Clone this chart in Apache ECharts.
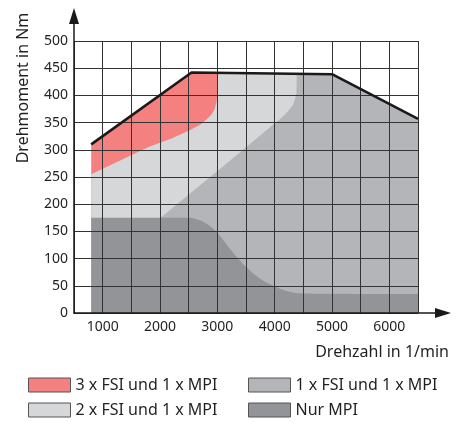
<!DOCTYPE html>
<html>
<head>
<meta charset="utf-8">
<script src="https://cdn.jsdelivr.net/npm/echarts@6/dist/echarts.min.js"></script>
<style>html,body{margin:0;padding:0;background:#fff;}#c{width:462px;height:422px;}</style>
</head>
<body>
<div id="c"></div>
<script>
// Full-load curve (black line)
const rpmFull = [800, 2550, 5000, 6500];
const torqueFull = [310, 442, 439, 357];
// 3 x FSI und 1 x MPI (red) – top boundary
const rpmRed = [800, 2550, 3000];
const torqueRed = [310, 442, 442];
// 2 x FSI und 1 x MPI (light grey) – top boundary
const rpmLight = [800, 1800, 2200, 2500, 2700, 2800, 2900, 2950, 2985, 3000, 3000, 4380];
const torqueLight = [255, 305, 321, 335, 346, 355, 365, 374, 388, 404, 442, 441];
// 1 x FSI und 1 x MPI (medium grey) – top boundary
const rpmMid = [2010, 3230, 3980, 4076, 4180, 4250, 4310, 4337, 4360, 4377, 4380, 5000, 6500];
const torqueMid = [175, 281, 347, 355, 365, 373, 381, 388, 395, 404, 441, 439, 357];
// Nur MPI (dark grey) – top boundary
const rpmDark = [800, 2500, 2650, 2800, 2977, 3238, 3500, 3790, 4000, 4250, 4480, 6500];
const torqueDark = [175, 175, 172, 165, 150, 116, 85, 60, 49, 39, 36, 35];
// tick labels
const xTickLabels = [1000, 2000, 3000, 4000, 5000, 6000];
const yTickLabels = [0, 50, 100, 150, 200, 250, 300, 350, 400, 450, 500];

const names = ['3 x FSI und 1 x MPI', '2 x FSI und 1 x MPI', '1 x FSI und 1 x MPI', 'Nur MPI'];
const colors = ['#f4807f', '#d6d7d9', '#b4b5b8', '#939498'];
const zip = (a, b) => a.map((v, i) => [v, b[i]]);
const FONT = 'Noto Sans';
const TXT = '#231f20';

function areaSeries(name, color, data, smooth) {
  return {
    name: name, type: 'line', xAxisIndex: 0, yAxisIndex: 0,
    data: data, showSymbol: false, symbol: 'none', smooth: smooth || false,
    color: color,
    itemStyle: { color: color },
    lineStyle: { width: 0, color: color },
    areaStyle: { color: color, opacity: 1 },
    silent: true, animation: false, z: 2
  };
}

function legendItem(name, left, top) {
  return {
    data: [name], orient: 'horizontal', left: left, top: top, padding: 0,
    itemWidth: 42, itemHeight: 14, icon: 'rect',
    itemStyle: { borderColor: '#555', borderWidth: 1 },
    textStyle: { fontSize: 16, color: TXT, fontFamily: FONT },
    selectedMode: false
  };
}

const chart = echarts.init(document.getElementById('c'), null, { renderer: 'canvas' });
chart.setOption({
  animation: false,
  backgroundColor: '#fff',
  textStyle: { fontFamily: FONT },
  grid: [
    { left: 74, right: 44, top: 41, bottom: 109 },
    { left: 74, right: 19, top: 16, bottom: 109 }
  ],
  xAxis: [
    {
      type: 'value', gridIndex: 0, min: 500, max: 6500, interval: 500, z: 3,
      axisLine: { show: false }, axisTick: { show: false },
      splitLine: { show: true, showMinLine: true, showMaxLine: true, lineStyle: { color: '#333', width: 1 } },
      axisLabel: {
        margin: 7, fontSize: 14, color: TXT, fontFamily: FONT,
        formatter: v => (xTickLabels.indexOf(v) >= 0 ? String(v) : '')
      }
    },
    {
      type: 'value', gridIndex: 1, min: 0, max: 1, z: 5,
      axisLine: { show: true, symbol: ['none', 'triangle'], symbolSize: [10, 16], lineStyle: { color: '#1a1a1a', width: 1.5 } },
      axisTick: { show: false }, axisLabel: { show: false }, splitLine: { show: false }
    }
  ],
  yAxis: [
    {
      type: 'value', gridIndex: 0, min: 0, max: 500, interval: 50, z: 3,
      axisLine: { show: false }, axisTick: { show: false },
      splitLine: { show: true, showMinLine: true, showMaxLine: true, lineStyle: { color: '#333', width: 1 } },
      axisLabel: {
        margin: 6, fontSize: 14, color: TXT, fontFamily: FONT,
        formatter: v => (yTickLabels.indexOf(v) >= 0 ? String(v) : '')
      }
    },
    {
      type: 'value', gridIndex: 1, min: 0, max: 1, z: 5,
      axisLine: { show: true, symbol: ['none', 'triangle'], symbolSize: [10, 16], lineStyle: { color: '#1a1a1a', width: 1.5 } },
      axisTick: { show: false }, axisLabel: { show: false }, splitLine: { show: false }
    }
  ],
  legend: [
    legendItem(names[0], 28, 377),
    legendItem(names[1], 28, 402),
    legendItem(names[2], 248, 377),
    legendItem(names[3], 248, 402)
  ],
  graphic: [
    {
      type: 'text', x: 23, y: 88, rotation: Math.PI / 2,
      style: { text: 'Drehmoment in Nm', font: '16px "Noto Sans"', fill: TXT, textAlign: 'center', textVerticalAlign: 'middle' }
    },
    {
      type: 'text', x: 449, y: 352,
      style: { text: 'Drehzahl in 1/min', font: '16px "Noto Sans"', fill: TXT, textAlign: 'right', textVerticalAlign: 'middle' }
    }
  ],
  series: [
    areaSeries(names[0], colors[0], zip(rpmRed, torqueRed)),
    areaSeries(names[1], colors[1], zip(rpmLight, torqueLight)),
    areaSeries(names[2], colors[2], zip(rpmMid, torqueMid)),
    areaSeries(names[3], colors[3], zip(rpmDark, torqueDark), 0.4),
    {
      name: 'Volllast', type: 'line', xAxisIndex: 0, yAxisIndex: 0,
      data: zip(rpmFull, torqueFull), showSymbol: false, symbol: 'none',
      lineStyle: { color: '#1a1a1a', width: 2.6 }, z: 4, silent: true
    }
  ]
});
</script>
</body>
</html>
